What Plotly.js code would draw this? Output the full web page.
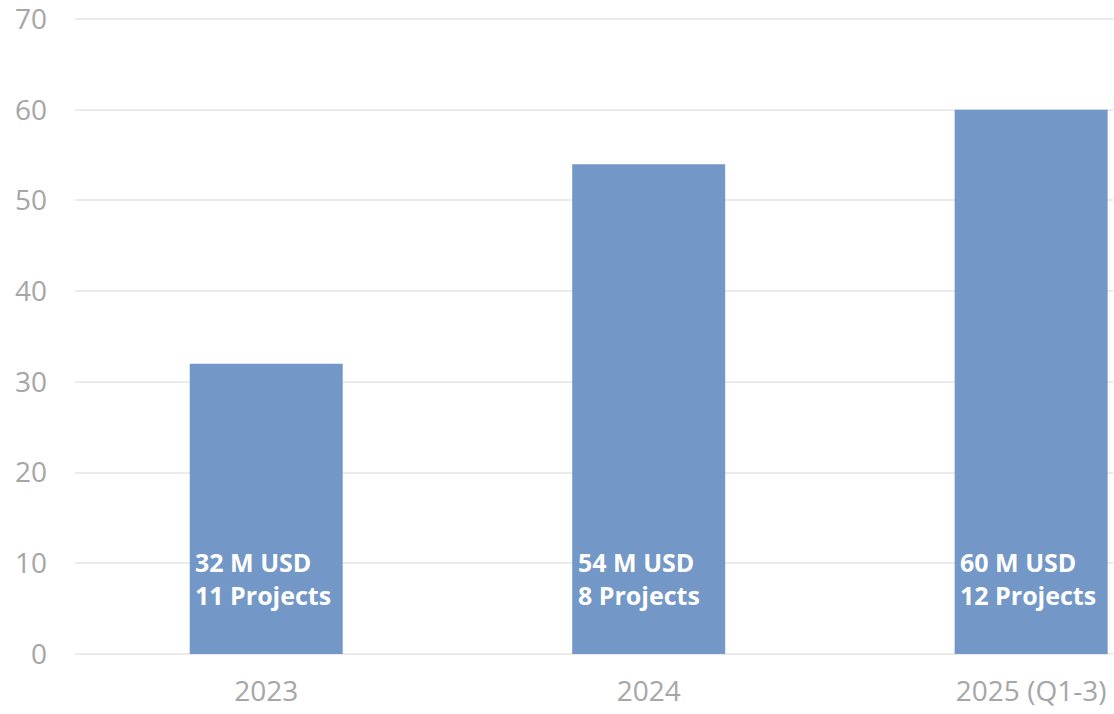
<!DOCTYPE html>
<html>
<head>
<meta charset="utf-8">
<script src="https://cdn.plot.ly/plotly-3.0.1.min.js"></script>
<style>html,body{margin:0;padding:0;background:#fff;}#chart{width:1114px;height:714px;}</style>
</head>
<body>
<div id="chart"></div>
<script>
const categories = ["2023", "2024", "2025 (Q1-3)"];
const fundingMUSD = [32, 54, 60];
const projectCounts = [11, 8, 12];
const yTicks = [0, 10, 20, 30, 40, 50, 60, 70];

const barColor = "#7398c7";
const tickColor = "#a6a6a6";
const gridColor = "#ebebeb";

const labels = categories.map((c, i) => fundingMUSD[i] + " M USD<br>" + projectCounts[i] + " Projects");

const trace = {
  type: "bar",
  x: categories,
  y: fundingMUSD,
  marker: {color: barColor},
  hoverinfo: "skip"
};

const annotations = categories.map((c, i) => ({
  x: i, y: 0, xref: "x", yref: "y",
  text: labels[i],
  showarrow: false,
  xanchor: "left", yanchor: "bottom",
  align: "left",
  xshift: -73, yshift: 40,
  font: {family: "Open Sans", size: 25, color: "#ffffff", weight: 700}
}));

const layout = {
  width: 1114, height: 714,
  margin: {l: 75, r: 1, t: 10, b: 60},
  paper_bgcolor: "#ffffff", plot_bgcolor: "#ffffff",
  bargap: 0.6,
  showlegend: false,
  xaxis: {
    type: "category",
    range: [-0.5, 2.214],
    showgrid: false, zeroline: false, showline: false,
    ticks: "",
    ticklabelstandoff: 18,
    ticklabeloverflow: "allow",
    tickfont: {family: "Open Sans", size: 28, color: tickColor}
  },
  yaxis: {
    range: [0, 71],
    tickvals: yTicks,
    showgrid: true, gridcolor: gridColor, gridwidth: 2,
    zeroline: true, zerolinecolor: gridColor, zerolinewidth: 2,
    showline: false, ticks: "",
    ticklabelstandoff: 27,
    ticklabeloverflow: "allow",
    tickfont: {family: "Open Sans", size: 28, color: tickColor}
  },
  annotations: annotations
};

Plotly.newPlot("chart", [trace], layout, {displayModeBar: false, staticPlot: true});
</script>
</body>
</html>
